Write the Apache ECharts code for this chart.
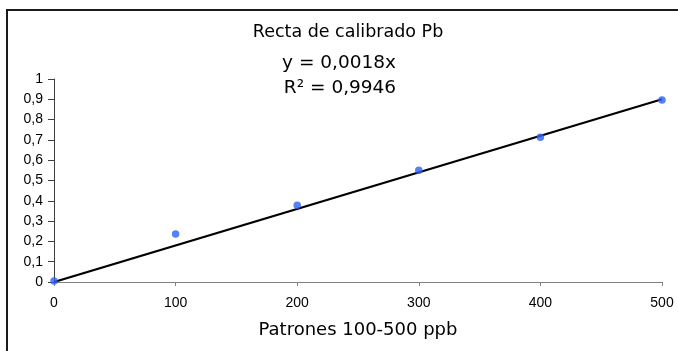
<!DOCTYPE html>
<html>
<head>
<meta charset="utf-8">
<script src="https://cdn.jsdelivr.net/npm/echarts@6/dist/echarts.min.js"></script>
<style>
html,body{margin:0;padding:0;background:#fff;}
#chart{width:678px;height:351px;}
</style>
</head>
<body>
<div id="chart"></div>
<script>
// Data
var xValues = [0, 100, 200, 300, 400, 500];
var yValues = [0.005, 0.236, 0.378, 0.551, 0.713, 0.896];
var slope = 0.0018;
var titleText = 'Recta de calibrado Pb';
var equationText = 'y = 0,0018x';
var r2Text = 'R² = 0,9946';
var xAxisName = 'Patrones 100-500 ppb';

var points = xValues.map(function (x, i) { return [x, yValues[i]]; });
var trend = [[0, 0], [500, slope * 500]];

var chart = echarts.init(document.getElementById('chart'));
chart.setOption({
  animation: false,
  backgroundColor: '#fff',
  grid: { left: 54, right: 16, top: 79, bottom: 69 },
  graphic: [
    { type: 'rect', shape: { x: 7, y: 10, width: 700, height: 400 },
      style: { fill: 'none', stroke: '#1a1a1a', lineWidth: 2 }, silent: true },
    { type: 'text', x: 348, y: 32, style: { text: titleText, textAlign: 'center', textVerticalAlign: 'middle',
      font: '17.5px "DejaVu Sans"', fill: '#000' } },
    { type: 'text', x: 339, y: 63, style: { text: equationText, textAlign: 'center', textVerticalAlign: 'middle',
      font: '18.5px "DejaVu Sans"', fill: '#000' } },
    { type: 'text', x: 340, y: 88, style: { text: r2Text, textAlign: 'center', textVerticalAlign: 'middle',
      font: '18.5px "DejaVu Sans"', fill: '#000' } }
  ],
  xAxis: {
    type: 'value', min: 0, max: 500, interval: 100,
    name: xAxisName, nameLocation: 'middle', nameGap: 39,
    nameTextStyle: { fontFamily: 'DejaVu Sans', fontSize: 18, color: '#000' },
    axisLine: { show: true, lineStyle: { color: '#808080', width: 1 } },
    axisTick: { show: true, inside: false, length: 4, lineStyle: { color: '#808080' } },
    axisLabel: { margin: 14, fontFamily: 'Liberation Sans', fontSize: 14, color: '#000' },
    splitLine: { show: false }
  },
  yAxis: {
    type: 'value', min: 0, max: 1, interval: 0.1,
    axisLine: { show: true, lineStyle: { color: '#404040', width: 1 } },
    axisTick: { show: true, inside: false, length: 6, lineStyle: { color: '#404040' } },
    axisLabel: { margin: 11, fontFamily: 'Liberation Sans', fontSize: 14, color: '#000',
      formatter: function (v) { return String(Math.round(v * 10) / 10).replace('.', ','); } },
    splitLine: { show: false }
  },
  series: [
    { type: 'line', data: trend, showSymbol: false, symbol: 'none', z: 2,
      lineStyle: { color: '#000', width: 2.2 } },
    { type: 'scatter', data: points, symbol: 'circle', symbolSize: 7.5, z: 3,
      itemStyle: { color: '#2d62f7' } }
  ]
});
</script>
</body>
</html>
